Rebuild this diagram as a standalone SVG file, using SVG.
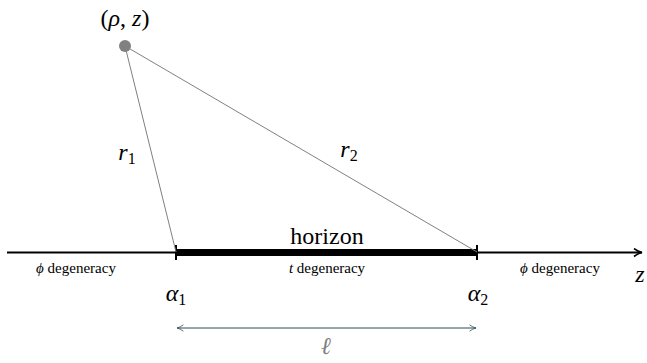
<svg xmlns="http://www.w3.org/2000/svg" width="647" height="363" viewBox="0 0 647 363">
<style>
.m{font-style:italic}
.sm{font-size:15px}
.big{font-size:24px}
.thin{stroke:#808080;stroke-width:1;fill:none}
</style>
<defs>
<marker id="ax" viewBox="0 0 10 10" refX="9" refY="5" markerWidth="10" markerHeight="10" markerUnits="userSpaceOnUse" orient="auto">
<path d="M1,1 Q5,4 9,5 Q5,6 1,9" fill="none" stroke="#000" stroke-width="1.6"/>
</marker>
<marker id="ar" viewBox="0 0 10 10" refX="9" refY="5" markerWidth="8" markerHeight="8" markerUnits="userSpaceOnUse" orient="auto-start-reverse">
<path d="M1,1 Q5,4 9,5 Q5,6 1,9" fill="none" stroke="#2f4f4f" stroke-width="1"/>
</marker>
</defs>
<g id="connectors">
<line x1="7" y1="252.5" x2="642" y2="252.5" stroke="#000" stroke-width="2" marker-end="url(#ax)"/>
<line x1="176" y1="252.5" x2="477" y2="252.5" stroke="#000" stroke-width="7"/>
<line x1="176" y1="245" x2="176" y2="260" stroke="#000" stroke-width="2"/>
<line x1="477" y1="245" x2="477" y2="260" stroke="#000" stroke-width="2"/>
<line class="thin" x1="125" y1="46" x2="176" y2="252"/>
<line class="thin" x1="125" y1="46" x2="477" y2="252"/>
<line x1="177" y1="328" x2="476" y2="328" stroke="#2f4f4f" stroke-width="1" marker-start="url(#ar)" marker-end="url(#ar)"/>
</g>
<g font-family="Liberation Serif, Times New Roman, Tinos, Noto Serif, DejaVu Serif, serif" fill="#000">
<g id="point">
<circle cx="125" cy="46" r="6" fill="#808080"/>
<text class="big" x="125" y="26" text-anchor="middle">(<tspan class="m">ρ</tspan>, <tspan class="m">z</tspan>)</text>
</g>
<g id="r1"><text class="big" x="127" y="160" text-anchor="middle"><tspan class="m">r</tspan><tspan font-size="16" dy="4">1</tspan></text></g>
<g id="r2"><text class="big" x="349" y="157" text-anchor="middle"><tspan class="m">r</tspan><tspan font-size="16" dy="4">2</tspan></text></g>
<g id="horizon"><text x="327" y="244" font-size="24" text-anchor="middle">horizon</text></g>
<g id="phi-left"><text class="sm" x="76" y="273" text-anchor="middle"><tspan class="m">ϕ</tspan> degeneracy</text></g>
<g id="t-deg"><text class="sm" x="327" y="273" text-anchor="middle"><tspan class="m">t</tspan> degeneracy</text></g>
<g id="phi-right"><text class="sm" x="560" y="273" text-anchor="middle"><tspan class="m">ϕ</tspan> degeneracy</text></g>
<g id="z-label"><text class="big m" x="640" y="282" text-anchor="middle">z</text></g>
<g id="alpha1"><text class="big" x="176" y="301" text-anchor="middle"><tspan class="m">α</tspan><tspan font-size="16" dy="4">1</tspan></text></g>
<g id="alpha2"><text class="big" x="478" y="301" text-anchor="middle"><tspan class="m">α</tspan><tspan font-size="16" dy="4">2</tspan></text></g>
<g id="ell"><text x="326" y="354" font-size="24" fill="#808080" class="m" text-anchor="middle">ℓ</text></g>
</g>
</svg>
